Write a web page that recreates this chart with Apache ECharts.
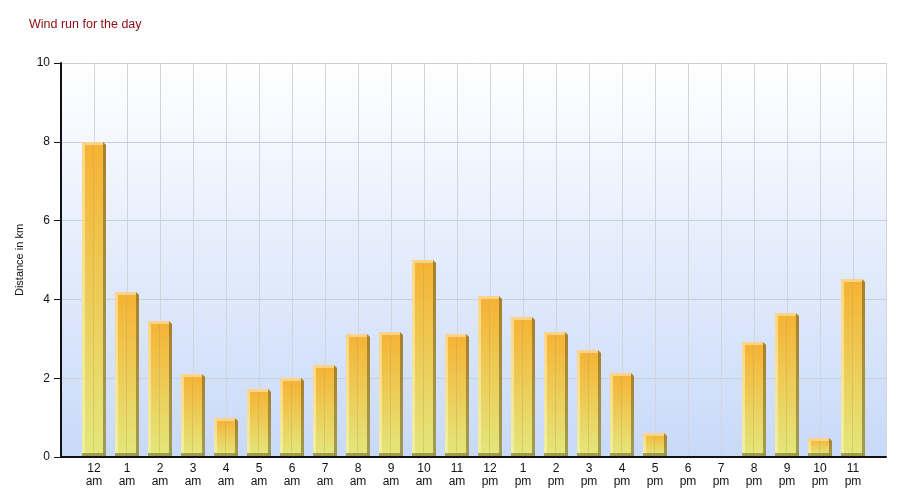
<!DOCTYPE html>
<html>
<head>
<meta charset="utf-8">
<script src="https://cdn.jsdelivr.net/npm/echarts@6/dist/echarts.min.js"></script>
<style>html,body{margin:0;padding:0;background:#fff}#c{width:900px;height:500px}</style>
</head>
<body>
<div id="c"></div>
<script>
const hours = ['12','1','2','3','4','5','6','7','8','9','10','11','12','1','2','3','4','5','6','7','8','9','10','11'];
const periods = ['am','am','am','am','am','am','am','am','am','am','am','am','pm','pm','pm','pm','pm','pm','pm','pm','pm','pm','pm','pm'];
const windRun = [8.0,4.2,3.45,2.1,1.0,1.73,2.0,2.33,3.12,3.17,5.0,3.12,4.09,3.55,3.17,2.72,2.13,0.61,0,0,2.92,3.65,0.48,4.52];
const yTicks = [0,2,4,6,8,10];

const categories = [''].concat(hours.map((h,i)=>h+'\n'+periods[i])).concat(['']);
const data = windRun.map((v,i)=>[i+1, v]);

const chart = echarts.init(document.getElementById('c'));
const G = echarts.graphic;
chart.setOption({
  animation:false,
  title:{text:'Wind run for the day',left:24,top:13,textStyle:{color:'#8b0a14',fontSize:12.5,fontWeight:'normal',fontFamily:'Liberation Sans'}},
  grid:{left:61,right:14,top:63,bottom:43,show:true,borderWidth:0,
    backgroundColor:new G.LinearGradient(0,0,0,1,[{offset:0,color:'#ffffff'},{offset:1,color:'#c8d9f9'}])},
  xAxis:{type:'category',data:categories,boundaryGap:false,
    axisLine:{lineStyle:{color:'#111',width:2}},axisTick:{show:false},
    axisLabel:{interval:0,color:'#111',fontSize:12,fontFamily:'Liberation Sans',lineHeight:13,margin:5},
    splitLine:{show:true,lineStyle:{color:'#d0d4dc',width:1}}},
  yAxis:{type:'value',min:0,max:10,interval:2,
    name:'Distance in km',nameLocation:'middle',nameGap:36,nameRotate:90,
    nameTextStyle:{color:'#111',fontSize:11,fontFamily:'Liberation Sans'},
    axisLine:{show:true,lineStyle:{color:'#111',width:2}},
    axisTick:{show:true,length:7,lineStyle:{color:'#111'}},
    axisLabel:{color:'#111',fontSize:12,fontFamily:'Liberation Sans',margin:11,
      formatter:v=>yTicks.indexOf(v)>=0?String(v):''},
    splitLine:{show:true,lineStyle:{color:'#c9cdd6',width:1}}},
  series:[{type:'custom',data:data,encode:{x:0,y:1},z:3,
    renderItem:function(params,api){
      const v=api.value(1);
      if(!v) return null;
      const t=api.coord([api.value(0),v]);
      const b=api.coord([api.value(0),0]);
      const cx=Math.round(t[0]), ty=Math.round(t[1]), by=Math.round(b[1])-1;
      const L=cx-12, F=21, S=3;
      const h=by-ty;
      return {type:'group',children:[
        {type:'rect',shape:{x:L,y:ty,width:F,height:h},style:{fill:new G.LinearGradient(0,0,0,1,[{offset:0,color:'#f6b233'},{offset:1,color:'#e3e77c'}])}},
        {type:'rect',shape:{x:L,y:ty,width:3,height:h},style:{fill:new G.LinearGradient(0,0,0,1,[{offset:0,color:'#fdd68a'},{offset:1,color:'#eef0a4'}])}},
        {type:'polygon',shape:{points:[[L+F,ty],[L+F+S,ty+S],[L+F+S,by],[L+F,by]]},style:{fill:new G.LinearGradient(0,0,0,1,[{offset:0,color:'#a8812c'},{offset:1,color:'#a09c55'}])}},
        {type:'rect',shape:{x:L,y:ty,width:F,height:3},style:{fill:'#fcd38a'}},
        {type:'line',shape:{x1:cx-0.5,y1:ty+3,x2:cx-0.5,y2:by-3},style:{stroke:'rgba(190,160,80,0.35)',lineWidth:1}},
        {type:'rect',shape:{x:L,y:by-3,width:F+S,height:3},style:{fill:'rgba(150,145,70,0.85)'}}
      ]};
    }}]
});
</script>
</body>
</html>
